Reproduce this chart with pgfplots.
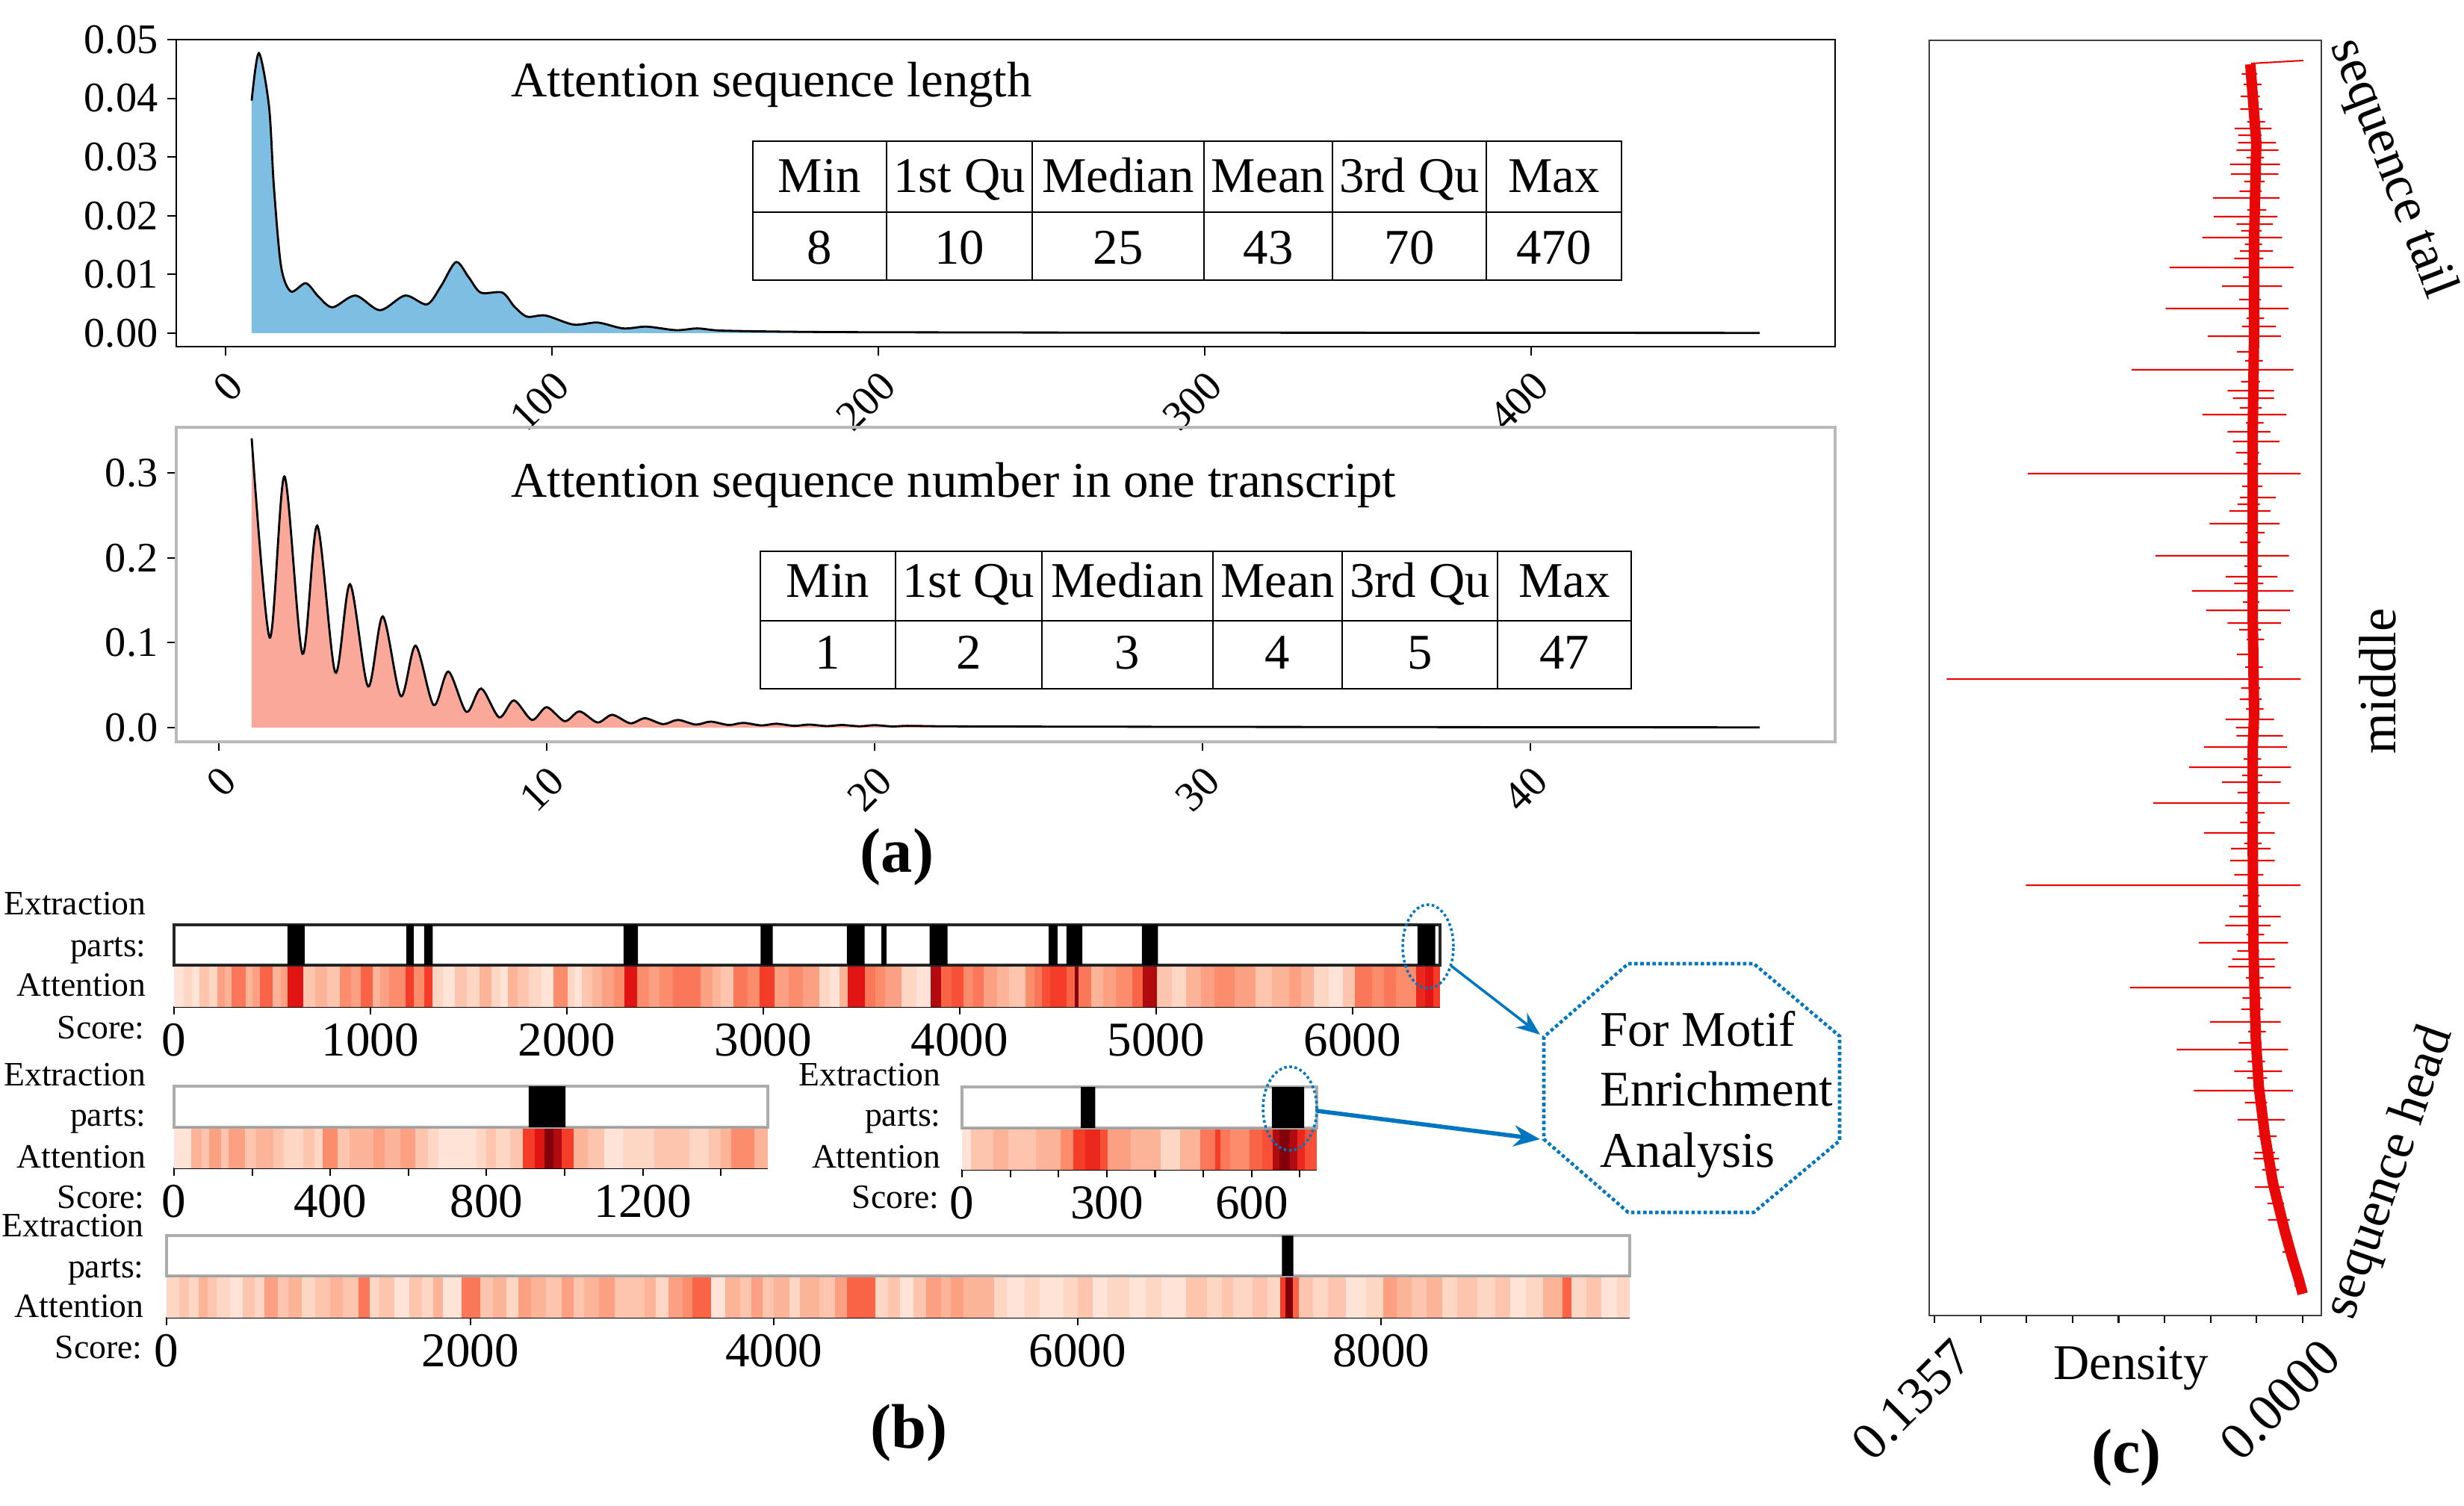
\documentclass[border=0pt]{standalone}
\usepackage{fontspec}
\setmainfont{Liberation Serif}
\usepackage{pgfplots}
\usepackage{pgfplotstable}
\pgfplotsset{compat=1.18}
\usetikzlibrary{arrows.meta}

\definecolor{kdeblue}{RGB}{126,190,226}
\definecolor{kdesalmon}{RGB}{249,168,154}
\definecolor{annblue}{RGB}{0,118,192}
\definecolor{tracered}{RGB}{232,8,8}

\newcommand{\fA}{\fontsize{16}{19}\selectfont}
\newcommand{\fT}{\fontsize{19}{23}\selectfont}
\newcommand{\fL}{\fontsize{13}{15}\selectfont}
\newcommand{\fB}{\fontsize{18.5}{22}\selectfont}
\newcommand{\fC}{\fontsize{20}{24}\selectfont}
\newcommand{\fP}{\bfseries\fontsize{24}{28}\selectfont}

\pgfplotsset{
  every axis/.append style={scaled x ticks=false, scaled y ticks=false,
    /pgf/number format/assume math mode=true, /pgf/number format/1000 sep={}},
  colormap={attn}{rgb255=(255,240,232) rgb255=(254,215,196) rgb255=(252,180,152)
    rgb255=(251,140,108) rgb255=(250,100,70) rgb255=(245,60,40) rgb255=(225,20,20) rgb255=(130,0,10)},
  extr/.style={scale only axis, xmin=0, ymin=0, ymax=1, xtick=\empty, ytick=\empty,
    axis line style={gray!65, line width=1pt}},
  heat/.style={scale only axis, xmin=0, ymin=0, ymax=1, axis x line*=bottom, axis y line=none,
    ytick=\empty, tick align=outside, major tick length=3pt, minor tick length=3pt,
    x axis line style={black, line width=1.3pt}, tick style={black, line width=0.6pt},
    xticklabel style={font=\fB}, colormap name=attn, point meta min=0, point meta max=7},
}

% ---------- (a) densities ----------
\pgfplotstableread{
x y
8 0.0396
10.2 0.0477
13.3 0.0387
14.8 0.0250
17 0.0114
20 0.0071
24.6 0.0085
28.5 0.0062
32.8 0.0044
39.8 0.0064
47.3 0.0039
55 0.0064
61.7 0.0049
66 0.0080
70.6 0.0121
74.5 0.0095
78.2 0.0069
84.8 0.0069
88.5 0.0045
92.4 0.0028
98 0.0030
106.6 0.00145
114 0.0018
121.8 0.0008
129 0.0011
138 0.0005
144.5 0.0008
151 0.00045
164 0.0003
180 0.0002
200 0.00015
250 0.0001
300 0.00008
400 0.00005
470 0.00003
}\lendata

\pgfplotstableread{
x y
1 0.341
1.55 0.106
2 0.296
2.55 0.087
3 0.238
3.55 0.065
4 0.169
4.55 0.0485
5 0.131
5.55 0.037
6 0.0965
6.55 0.0265
7 0.066
7.55 0.0185
8 0.046
8.55 0.012
9 0.032
9.55 0.009
10 0.024
10.55 0.0075
11 0.019
11.55 0.006
12 0.015
12.55 0.005
13 0.011
13.55 0.004
14 0.009
14.55 0.0035
15 0.007
15.55 0.003
16 0.0055
16.55 0.0025
17 0.0045
17.55 0.002
18 0.0035
18.55 0.0017
19 0.003
19.55 0.0015
20 0.0028
20.55 0.0013
21 0.002
22 0.0015
24 0.0012
27 0.001
30 0.0008
35 0.0006
40 0.0004
47 0.0002
}\numdata

% ---------- (b) attention scores (level 0..7) ----------
\pgfplotstableread{
x c
0 0.5
50 1
90 0.5
130 1.5
180 1
220 2.5
260 2
293 3.5
366 2
400 2.5
439 4
502 2
545 2.5
579 6
658 1.5
720 2
780 1.5
846 3
900 2.5
950 4
1012 2
1050 2.5
1096 3
1179 5
1221 3
1273 5
1315 1
1370 0.5
1430 1.5
1490 1
1555 2
1617 1
1660 0.5
1701 2
1750 1.5
1805 1
1870 0.5
1930 3
2003 1
2040 0.5
2076 1.5
2130 2
2180 2.5
2240 3
2295 6
2358 3
2420 2.5
2472 3
2540 3.5
2598 3.5
2681 2.5
2740 2
2785 1.5
2848 3.5
2920 3
2983 5
3056 2.5
3130 3
3201 2.5
3285 1
3340 0.5
3390 2
3432 6
3516 3.5
3570 3
3621 2.5
3705 1
3780 0.5
3852 6.5
3904 4
3960 4.5
4019 3
4070 3.5
4124 2.5
4190 2
4250 1.5
4334 3
4380 3.5
4418 4.5
4460 5
4544 4
4585 7
4606 3.5
4669 2
4730 2.5
4795 3
4879 4
4931 6.5
5005 1.5
5080 1
5152 2
5230 2.5
5298 3
5400 2.5
5508 1.5
5590 2
5676 2.5
5740 2
5802 1
5880 0.5
5950 1.5
6012 3.5
6100 3
6160 3.5
6221 3
6326 5.5
6368 6
6410 5
6446 5
}\attA

\pgfplotstableread{
x c
0 0.5
44 2
70 1.5
90 2.5
120 1.5
140 2.5
182 1.5
210 2
255 1.5
281 1
330 1.5
360 1
380 3
419 1.5
450 2
510 2.5
540 2
580 2.5
617 1.5
650 1
676 0.5
775 1
800 1.5
824 1
860 1.5
893 5
923 6
948 7
972 6.5
992 5
1022 2
1060 1.5
1101 0.5
1150 1
1230 1.5
1320 1
1368 1.5
1400 2
1427 3
1486 2
1520 2
}\attB

\pgfplotstableread{
x c
0 0.5
19 1.5
65 2
96 1.5
153 2
204 3
230 5
256 5.5
287 4.5
302 2.5
349 2
411 1
452 2
493 3.5
524 5
535 3.5
555 3
596 4
622 4.5
643 6.5
658 7
679 6.5
694 5.5
710 4.5
735 4.5
}\attC

\pgfplotstableread{
x c
0 1
84 1.5
150 1
210 2
270 1.5
332 1
420 0.5
500 1.5
580 1
642 2.5
735 1.5
800 2
890 1
980 1.5
1076 2
1160 1.5
1262 3.5
1336 1
1400 1.5
1500 0.5
1600 1.5
1680 1
1757 2
1819 0.5
1943 3.5
2067 1.5
2150 2
2240 1
2315 2.5
2400 2
2500 1.5
2600 2.5
2680 1.5
2748 2
2850 2.5
2950 1.5
3150 2
3220 1
3306 2.5
3400 3
3461 4
3585 0.5
3678 2
3780 1.5
3850 2.5
3925 1.5
4000 2
4100 1
4173 2
4300 1.5
4400 2.5
4483 4
4669 1
4750 1.5
4830 0.5
4917 1.5
5000 2.5
5100 2
5164 2.5
5250 2
5450 1
5536 0.5
5650 1
5750 0.5
5908 1
6000 1.5
6100 0.5
6200 1
6341 0.5
6450 1
6550 0.5
6713 1.5
6850 1
6950 1.5
7023 1
7150 1.5
7250 1
7333 5
7370 7
7419 4
7456 1.5
7550 1
7650 1.5
7766 0.5
7900 1
8014 2.5
8100 2
8200 1.5
8300 2
8400 1
8500 1.5
8634 1
8750 1.5
8850 0.5
8950 1
9067 2
9191 4
9253 1
9350 1.5
9450 0.5
9550 1
9636 1
}\attD

% ---------- (c) density along position ----------
\pgfplotstableread{
d p
0.0000 29
0.0014 48
0.0036 74
0.0066 113
0.0110 178
0.0140 243
0.0162 307
0.0173 372
0.0182 502
0.0184 631
0.0184 761
0.0179 804
0.0184 932
0.0184 1060
0.0184 1187
0.0179 1315
0.0179 1442
0.0171 1570
0.0193 1675
}\trend

\pgfplotstableread{
d p
0.0190 1676
-0.0002 1680
nan nan
0.0251 1589
0.0115 1589
nan nan
0.0238 1570
0.0099 1570
nan nan
0.0244 1560
0.0089 1560
nan nan
0.0268 1541
0.0084 1541
nan nan
0.0264 1528
0.0089 1528
nan nan
0.0331 1496
0.0086 1496
nan nan
0.0328 1471
0.0093 1471
nan nan
0.0244 1461
0.0110 1461
nan nan
0.0370 1443
0.0076 1443
nan nan
0.0231 1425
0.0110 1425
nan nan
0.0490 1403
0.0034 1403
nan nan
0.0297 1378
0.0076 1378
nan nan
0.0505 1348
0.0053 1348
nan nan
0.0224 1324
0.0099 1324
nan nan
0.0349 1311
0.0080 1311
nan nan
0.0631 1266
0.0034 1266
nan nan
0.0277 1238
0.0106 1238
nan nan
0.0257 1228
0.0106 1228
nan nan
0.0370 1206
0.0060 1206
nan nan
0.0277 1183
0.0119 1183
nan nan
0.0257 1170
0.0086 1170
nan nan
0.1013 1127
0.0007 1127
nan nan
0.0231 1095
0.0099 1095
nan nan
0.0270 1077
0.0119 1077
nan nan
0.0343 1060
0.0086 1060
nan nan
0.0543 1017
0.0051 1017
nan nan
0.0284 989
0.0093 989
nan nan
0.0408 970
0.0034 970
nan nan
0.0356 944
0.0047 944
nan nan
0.0277 927
0.0080 927
nan nan
0.1312 852
0.0007 852
nan nan
0.0284 798
0.0106 798
nan nan
0.0244 776
0.0073 776
nan nan
0.0364 761
0.0058 761
nan nan
0.0419 734
0.0043 734
nan nan
0.0297 714
0.0081 714
nan nan
0.0550 686
0.0048 686
nan nan
0.0364 646
0.0103 646
nan nan
0.0264 625
0.0118 625
nan nan
0.0267 609
0.0103 609
nan nan
0.1020 576
0.0009 576
nan nan
0.0270 534
0.0081 534
nan nan
0.0285 522
0.0118 522
nan nan
0.0383 499
0.0054 499
nan nan
0.0260 477
0.0103 477
nan nan
0.0274 467
0.0103 467
nan nan
0.0637 439
0.0043 439
nan nan
0.0342 393
0.0081 393
nan nan
0.0464 356
0.0054 356
nan nan
0.0252 327
0.0076 327
nan nan
0.0401 301
0.0036 301
nan nan
0.0240 262
0.0066 262
nan nan
0.0181 210
0.0088 210
nan nan
0.0030 40
0.0001 40
nan nan
0.0039 60
0.0007 60
nan nan
0.0074 85
0.0034 85
nan nan
0.0072 105
0.0040 105
nan nan
0.0128 128
0.0048 128
nan nan
0.0129 150
0.0069 150
nan nan
0.0176 172
0.0069 172
nan nan
0.0150 195
0.0087 195
nan nan
0.0176 218
0.0102 218
nan nan
0.0167 240
0.0097 240
nan nan
0.0213 285
0.0131 285
nan nan
0.0205 318
0.0131 318
nan nan
0.0203 340
0.0139 340
nan nan
0.0236 365
0.0151 365
nan nan
0.0201 380
0.0136 380
nan nan
0.0226 410
0.0145 410
nan nan
0.0222 425
0.0152 425
nan nan
0.0209 452
0.0144 452
nan nan
0.0241 488
0.0161 488
nan nan
0.0207 510
0.0142 510
nan nan
0.0234 548
0.0154 548
nan nan
0.0220 562
0.0160 562
nan nan
0.0252 590
0.0145 590
nan nan
0.0215 632
0.0152 632
nan nan
0.0230 660
0.0156 660
nan nan
0.0210 673
0.0140 673
nan nan
0.0240 700
0.0158 700
nan nan
0.0223 723
0.0149 723
nan nan
0.0217 745
0.0153 745
nan nan
0.0246 787
0.0161 787
nan nan
0.0209 812
0.0144 812
nan nan
0.0232 825
0.0151 825
nan nan
0.0227 840
0.0157 840
nan nan
0.0212 868
0.0147 868
nan nan
0.0242 885
0.0162 885
nan nan
0.0207 905
0.0142 905
nan nan
0.0234 918
0.0154 918
nan nan
0.0220 955
0.0160 955
nan nan
0.0252 980
0.0145 980
nan nan
0.0215 1003
0.0152 1003
nan nan
0.0230 1035
0.0156 1035
nan nan
0.0210 1048
0.0140 1048
nan nan
0.0240 1086
0.0158 1086
nan nan
0.0223 1110
0.0149 1110
nan nan
0.0217 1140
0.0153 1140
nan nan
0.0246 1155
0.0161 1155
nan nan
0.0209 1195
0.0144 1195
nan nan
0.0232 1215
0.0151 1215
nan nan
0.0227 1250
0.0157 1250
nan nan
0.0212 1278
0.0147 1278
nan nan
0.0242 1290
0.0162 1290
nan nan
0.0207 1335
0.0142 1335
nan nan
0.0234 1360
0.0154 1360
nan nan
0.0220 1390
0.0160 1390
nan nan
0.0252 1415
0.0145 1415
nan nan
0.0213 1434
0.0150 1434
nan nan
0.0226 1452
0.0152 1452
nan nan
0.0204 1480
0.0134 1480
nan nan
0.0233 1505
0.0151 1505
nan nan
0.0215 1518
0.0141 1518
nan nan
0.0207 1550
0.0143 1550
nan nan
0.0237 1580
0.0152 1580
nan nan
0.0204 1598
0.0139 1598
nan nan
0.0230 1615
0.0149 1615
nan nan
0.0228 1632
0.0158 1632
nan nan
0.0217 1648
0.0152 1648
nan nan
0.0225 1662
0.0168 1662
}\spikes

\begin{document}
\begin{tikzpicture}
\path[use as bounding box] (0,0) rectangle (32.99,-20.16);

% ================= (a) top =================
\begin{axis}[at={(2.36cm,-4.64cm)}, anchor=south west, scale only axis,
  width=22.21cm, height=4.11cm,
  xmin=-15.1, xmax=493.1, ymin=-0.0023, ymax=0.05,
  xtick={0,100,200,300,400}, ytick={0,0.01,0.02,0.03,0.04,0.05},
  tick pos=left, tick align=outside, major tick length=3.5pt,
  tick style={black, line width=0.6pt},
  axis line style={black, line width=0.8pt},
  tick label style={font=\fA},
  xticklabel style={rotate=45, anchor=north east},
  yticklabel style={/pgf/number format/.cd, fixed, fixed zerofill, precision=2}]
\addplot[fill=kdeblue, draw=none, smooth] table[x=x, y=y] {\lendata} \closedcycle;
\addplot[black, line width=0.8pt, smooth] table[x=x, y=y] {\lendata};
\end{axis}

% ================= (a) bottom =================
\begin{axis}[at={(2.36cm,-9.93cm)}, anchor=south west, scale only axis,
  width=22.21cm, height=4.21cm,
  xmin=-1.3, xmax=49.3, ymin=-0.0168, ymax=0.354,
  xtick={0,10,20,30,40}, ytick={0,0.1,0.2,0.3},
  tick pos=left, tick align=outside, major tick length=3.5pt,
  tick style={black, line width=0.6pt},
  axis line style={gray!55, line width=0.9pt},
  tick label style={font=\fA},
  xticklabel style={rotate=45, anchor=north east},
  yticklabel style={/pgf/number format/.cd, fixed, fixed zerofill, precision=1}]
\addplot[fill=kdesalmon, draw=none, smooth] table[x=x, y=y] {\numdata} \closedcycle;
\addplot[black, line width=0.8pt, smooth] table[x=x, y=y] {\numdata};
\end{axis}

% titles
\node[anchor=base west, font=\fT] at (6.72,-1.30) {Attention sequence length};
\node[anchor=base west, font=\fT] at (6.72,-6.66) {Attention sequence number in one transcript};

% table 1
\draw[line width=0.8pt] (10.08,-1.89) rectangle (21.71,-3.75);
\draw[line width=0.8pt] (10.08,-2.84) -- (21.71,-2.84);
\foreach \x in {11.87,13.82,16.12,17.84,19.90} {\draw[line width=0.8pt] (\x,-1.89) -- (\x,-3.75);}
\foreach \x/\t in {10.975/Min,12.845/1st Qu,14.97/Median,16.98/Mean,18.87/3rd Qu,20.805/Max}
  {\node[anchor=base, font=\fT] at (\x,-2.58) {\t};}
\foreach \x/\t in {10.975/8,12.845/10,14.97/25,16.98/43,18.87/70,20.805/470}
  {\node[anchor=base, font=\fT] at (\x,-3.54) {\t};}

% table 2
\draw[line width=0.8pt] (10.18,-7.38) rectangle (21.84,-9.22);
\draw[line width=0.8pt] (10.18,-8.31) -- (21.84,-8.31);
\foreach \x in {11.99,13.95,16.24,17.97,20.05} {\draw[line width=0.8pt] (\x,-7.38) -- (\x,-9.22);}
\foreach \x/\t in {11.085/Min,12.97/1st Qu,15.095/Median,17.105/Mean,19.01/3rd Qu,20.945/Max}
  {\node[anchor=base, font=\fT] at (\x,-8.00) {\t};}
\foreach \x/\t in {11.085/1,12.97/2,15.095/3,17.105/4,19.01/5,20.945/47}
  {\node[anchor=base, font=\fT] at (\x,-8.96) {\t};}

\node[font=\fP] at (12.01,-11.47) {(a)};

% ================= (b) strips =================
% strip 1
\begin{axis}[heat, at={(2.33cm,-12.92cm)}, anchor=north west, width=16.95cm, height=0.55cm,
  xmax=6446, xtick={0,1000,2000,3000,4000,5000,6000}]
\addplot[mesh, shader=flat corner, point meta=explicit, line width=24pt]
  table[x index=0, y expr=0.5, meta index=1] {\attA};
\end{axis}
\begin{axis}[extr, at={(2.33cm,-12.92cm)}, anchor=south west, width=16.95cm, height=0.54cm,
  xmax=6446, axis line style={black!85, line width=1pt}]
\addplot[ybar interval, fill=black, draw=none] coordinates {(0,0) (578,1) (665,0) (1183,1) (1220,0)
  (1273,1) (1317,0) (2289,1) (2362,0) (2987,1) (3048,0) (3426,1) (3516,0) (3602,1) (3627,0)
  (3847,1) (3938,0) (4454,1) (4498,0) (4544,1) (4625,0) (4928,1) (5010,0) (6331,1) (6422,0) (6446,0)};
\end{axis}

% strip 2
\begin{axis}[heat, at={(2.33cm,-15.09cm)}, anchor=north west, width=7.95cm, height=0.54cm,
  xmax=1520, xtick={0,400,800,1200}, minor xtick={200,600,1000,1400}]
\addplot[mesh, shader=flat corner, point meta=explicit, line width=24pt]
  table[x index=0, y expr=0.5, meta index=1] {\attB};
\end{axis}
\begin{axis}[extr, at={(2.33cm,-15.09cm)}, anchor=south west, width=7.95cm, height=0.55cm, xmax=1520]
\addplot[ybar interval, fill=black, draw=none] coordinates {(0,0) (908,1) (1002,0) (1520,0)};
\end{axis}

% strip 3
\begin{axis}[heat, at={(12.88cm,-15.10cm)}, anchor=north west, width=4.75cm, height=0.55cm,
  xmax=735, xtick={0,300,600}, minor xtick={100,200,400,500,700}]
\addplot[mesh, shader=flat corner, point meta=explicit, line width=24pt]
  table[x index=0, y expr=0.5, meta index=1] {\attC};
\end{axis}
\begin{axis}[extr, at={(12.88cm,-15.10cm)}, anchor=south west, width=4.75cm, height=0.55cm, xmax=735]
\addplot[ybar interval, fill=black, draw=none] coordinates {(0,0) (246,1) (276,0) (642,1) (709,0) (735,0)};
\end{axis}

% strip 4
\begin{axis}[heat, at={(2.23cm,-17.08cm)}, anchor=north west, width=19.59cm, height=0.55cm,
  xmax=9636, xtick={0,2000,4000,6000,8000}]
\addplot[mesh, shader=flat corner, point meta=explicit, line width=24pt]
  table[x index=0, y expr=0.5, meta index=1] {\attD};
\end{axis}
\begin{axis}[extr, at={(2.23cm,-17.08cm)}, anchor=south west, width=19.59cm, height=0.54cm, xmax=9636]
\addplot[ybar interval, fill=black, draw=none] coordinates {(0,0) (7345,1) (7420,0) (9636,0)};
\end{axis}

% strip labels
\foreach \x/\ya/\yb/\yc/\yd in {2.08/12.25/12.80/13.33/13.90, 2.08/14.53/15.07/15.63/16.17,
  12.72/14.53/15.07/15.63/16.17, 2.05/16.55/17.10/17.63/18.18} {
  \node[anchor=base east, font=\fL] at (\x,-\ya) {Extraction};
  \node[anchor=base east, font=\fL] at (\x,-\yb) {parts:};
  \node[anchor=base east, font=\fL] at (\x,-\yc) {Attention};
  \node[anchor=base east, font=\fL] at (\x-0.02,-\yd) {Score:};
}

% annotations
\draw[annblue, densely dotted, line width=1pt] (19.12,-12.67) ellipse (0.34 and 0.56);
\draw[annblue, densely dotted, line width=1pt] (17.27,-14.84) ellipse (0.36 and 0.56);
\draw[annblue, densely dotted, line width=1.3pt] (21.80,-12.90) -- (23.48,-12.90) -- (24.63,-13.87)
  -- (24.63,-15.27) -- (23.48,-16.23) -- (21.80,-16.23) -- (20.67,-15.25) -- (20.67,-13.88) -- cycle;
\draw[annblue, line width=1pt, -{Stealth[length=9pt, width=7pt]}] (19.43,-12.93) -- (20.62,-13.85);
\draw[annblue, line width=1.6pt, -{Stealth[length=10pt, width=8pt]}] (17.63,-14.87) -- (20.62,-15.25);
\node[anchor=base west, font=\fT] at (21.30,-14.00) {For Motif};
\node[anchor=base west, font=\fT] at (21.30,-14.80) {Enrichment};
\node[anchor=base west, font=\fT] at (21.30,-15.62) {Analysis};

\node[font=\fP] at (12.17,-19.18) {(b)};

% ================= (c) =================
\begin{axis}[at={(25.83cm,-17.61cm)}, anchor=south west, scale only axis,
  width=5.25cm, height=17.07cm,
  x dir=reverse, xmin=-0.00688, xmax=0.13763, ymin=0, ymax=1707,
  xtick={0,0.1357}, xticklabels={0.0000,0.1357},
  minor xtick={0.016963,0.033925,0.050888,0.06785,0.084813,0.101775,0.118738},
  ytick=\empty,
  minor ytick={77,271,465,659,853,1047,1240,1434,1628},
  xtick pos=bottom, ytick pos=right, tick align=outside,
  major tick length=2.8pt, minor tick length=2.8pt,
  axis line style={black!75, line width=0.8pt},
  tick style={black, line width=0.6pt},
  xticklabel style={font=\fC, xshift=6pt, rotate=45, anchor=north east},
  unbounded coords=jump]
\addplot[tracered, line width=4.0pt, line join=round] table[x=d, y=p] {\trend};
\addplot[tracered, line width=0.6pt] table[x=d, y=p] {\spikes};
\end{axis}

\node[anchor=base, font=\fontsize{19}{22}\selectfont] at (28.53,-18.46) {Density};
\node[font=\fP] at (28.47,-19.51) {(c)};
\node[rotate=-69, font=\fC] at (32.02,-2.26) {sequence tail};
\node[rotate=90, font=\fC] at (31.83,-9.12) {middle};
\node[rotate=71, font=\fC] at (32.01,-15.70) {sequence head};

\end{tikzpicture}
\end{document}
